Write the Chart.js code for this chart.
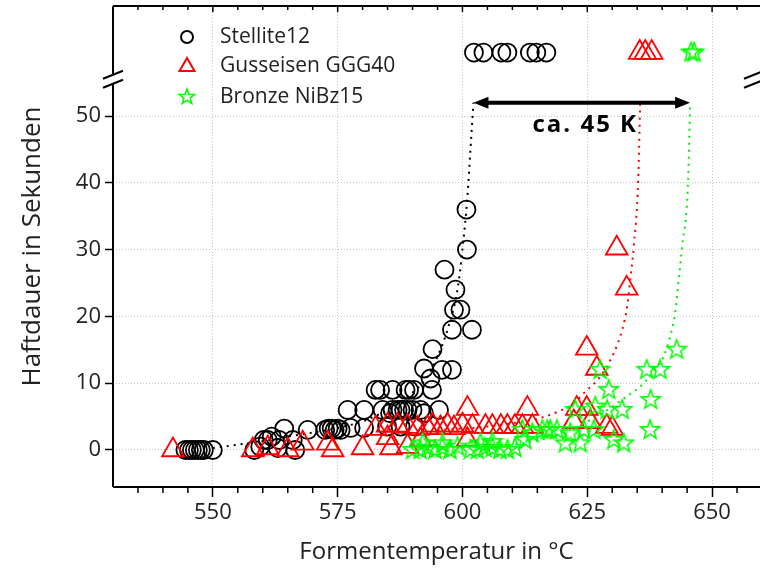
<!DOCTYPE html>
<html>
<head>
<meta charset="utf-8">
<script src="https://cdn.jsdelivr.net/npm/chart.js@4/dist/chart.umd.min.js"></script>
<style>
    body { margin: 0; background: #fff; }
    #chart_container { width: 760px; height: 573px; }
</style>
</head>
<body>
<div id="chart_container"><canvas id="haftdauer_chart" width="760" height="573"></canvas></div>
<script>
const FONT = "'Open Sans', 'DejaVu Sans', sans-serif";

// Stellite12
const stelliteX = [544.5, 545.2, 545.8, 546.4, 547.0, 547.6, 548.2, 550.0,
    558.3, 559.5, 560.2, 561.0, 561.8, 563.0, 563.3, 564.3, 566.0, 566.5, 569.0,
    572.5, 573.2, 573.8, 574.4, 575.0, 575.6, 577.6, 580.3,
    577.0, 580.3, 584.0, 586.0, 587.0, 587.6, 588.3, 589.0, 590.0, 591.6, 595.3,
    582.6, 583.5, 586.0, 588.6, 589.3, 590.3, 593.9,
    584.9, 587.6, 590.5, 585.5, 592.3,
    593.6, 592.3, 595.9, 597.9, 594.0, 597.9, 601.9, 598.3, 599.6, 598.6, 596.4, 600.9, 600.8];
const stelliteY = [0, 0, 0, 0, 0, 0, 0, 0,
    0, 0.5, 1.5, 1.5, 2, 0.3, 1.5, 3.2, 1.5, 0, 3,
    3, 3.2, 3.2, 3, 3.2, 3, 3.3, 3.3,
    6, 6, 6, 6, 6, 6, 6, 6, 6, 6, 6,
    9, 9, 9, 9, 9, 9, 9,
    3.5, 3.5, 3.5, 5.5, 5.5,
    10.7, 12.2, 12, 12, 15.1, 18, 18, 21, 21, 24, 27, 30, 36];
// no adhesion -> row above the axis break
const stelliteTopX = [602.3, 604.2, 607.8, 609.0, 613.5, 614.8, 616.8];

// Gusseisen GGG40
const gussX = [542, 558, 561, 565, 568, 573, 574, 580, 582.6, 585, 585.7, 585, 587, 589, 589,
    591, 591.6, 593, 594, 595.6, 597, 598.3, 600, 601, 601, 602, 604.6, 606, 607.7, 609,
    610.5, 612, 613, 614, 622.9, 624.9, 622.3, 625.6, 628.9, 630, 624.9, 626.9, 630.9, 632.9];
const gussY = [0, 0, 0.3, 0, 1, 1, 0, 0.3, 3.2, 1.8, 0.3, 3.7, 3.7, 0.5, 3.5,
    3.2, 1.5, 3.3, 3.7, 3.3, 3.7, 3.3, 3.7, 6.2, 1.5, 3.5, 3.5, 3.5, 3.5, 3.5,
    3.5, 3.5, 6.2, 3.5, 6.2, 6.2, 4.2, 4.2, 3.5, 3.2, 15.2, 12.2, 30.2, 24.2];
const gussTopX = [635.5, 636.6, 637.9];

// Bronze NiBz15
const bronzeX = [590, 591.5, 593, 594.5, 596, 597.5, 599, 592, 596,
    601.6, 603, 604.5, 606, 607.5, 609, 610.5, 603.6, 606,
    612, 614, 616, 617.6, 612.5, 617, 618.9, 620.6, 621.6, 622.6, 623.6, 624.3, 626.3,
    626.6, 627.6, 629, 629.3, 630.3, 632, 632.3, 636.9, 637.6, 637.7, 639.6, 642.9];
const bronzeY = [0, 0, 0.3, 0, 0.3, 0, 0.5, 1, 1,
    0, 0, 0.3, 0.3, 0, 0, 0.3, 1, 1.2,
    3, 2.5, 3, 3, 1.5, 3, 3, 1, 2.5, 6, 1, 3, 3,
    6.5, 12, 6, 9, 1.5, 6, 1, 12, 3, 7.5, 12, 15];
const bronzeTopX = [645.8, 646.4];

// dotted fit curves
const stelliteFitX = [550, 555, 560, 565, 570, 575, 580, 585, 589, 593, 595, 597, 599, 600, 601, 601.6, 602.2];
const stelliteFitY = [0.3, 0.8, 1.3, 2, 2.6, 3.3, 4.3, 6, 8, 11, 14, 18, 24, 30, 38, 45, 52];
const gussFitX = [595, 600, 605, 610, 615.6, 619, 622.3, 624.3, 627.6, 630.3, 632, 633, 633.6, 634.3, 635.2, 635.6];
const gussFitY = [3, 3.2, 3.5, 4, 4.8, 5.7, 7, 8.5, 11, 14.5, 18, 21.5, 25.4, 30.4, 40.3, 52];
const bronzeFitX = [605, 612, 618, 623, 628, 632.9, 635.6, 638, 640.3, 641.6, 642.6, 643.3, 644, 645.2, 645.6];
const bronzeFitY = [0.3, 1, 2, 3.5, 5.5, 8, 9.5, 11.5, 14, 17, 20.5, 25.4, 30.4, 40.3, 52];

const TOP_ROW = 59.5;      // value used for the "no adhesion" row
const BREAK_AT = 55.5;     // where the y axis is broken
const xTicks = [550, 575, 600, 625, 650];
const yTicks = [0, 10, 20, 30, 40, 50];
const seriesNames = ['Stellite12', 'Gusseisen GGG40', 'Bronze NiBz15'];
const arrowX = [602.2, 645.6];
const arrowY = 52;
const arrowLabel = ['ca. 45 K', 624.6, 48.7];

const toPoints = (xs, ys) => xs.map((x, i) => ({x: x, y: ys[i]}));
const topPoints = (xs) => xs.map(x => ({x: x, y: TOP_ROW}));

// outlined 5-point star, Chart.js has no such pointStyle
const makeStar = function(r, color, lw) {
    const size = Math.ceil(2 * r + 2 * lw + 2);
    const c = document.createElement('canvas');
    c.width = size; c.height = size;
    const g = c.getContext('2d');
    g.strokeStyle = color; g.lineWidth = lw;
    g.beginPath();
    for (let i = 0; i < 10; i++) {
        const rr = i % 2 === 0 ? r : r * 0.42;
        const a = -Math.PI / 2 + i * Math.PI / 5;
        const px = size / 2 + rr * Math.cos(a), py = size / 2 + rr * Math.sin(a);
        if (i === 0) g.moveTo(px, py); else g.lineTo(px, py);
    }
    g.closePath(); g.stroke();
    return c;
}

const starBig = makeStar(10, '#00ff00', 1.6);
const starSmall = makeStar(8, '#00ff00', 1.6);

const fitLine = function(xs, ys, color) {
    return {
        data: toPoints(xs, ys), showLine: true, pointRadius: 0, borderColor: color,
        borderWidth: 2, borderDash: [2, 5], fill: false, cubicInterpolationMode: 'monotone', order: 3
    };
}

const line = function(ctx, x1, y1, x2, y2) {
    ctx.beginPath(); ctx.moveTo(x1, y1); ctx.lineTo(x2, y2); ctx.stroke();
}

// kill the automatic label padding so the plot area stays where we want it
const noPad = function(scale) {
    scale.paddingTop = 0; scale.paddingBottom = 0;
    scale.paddingLeft = 0; scale.paddingRight = 0;
}

const decorPlugin = {
    id: 'decor',
    afterDraw(chart) {
        const ctx = chart.ctx, area = chart.chartArea;
        const xs = chart.scales.x, ys = chart.scales.y;
        ctx.save();
        ctx.strokeStyle = '#000';
        ctx.fillStyle = '#000';
        ctx.lineWidth = 2;

        // frame: top, bottom, broken left axis
        const yb = ys.getPixelForValue(BREAK_AT);
        line(ctx, area.left, area.top, area.right, area.top);
        line(ctx, area.left, area.bottom, area.right, area.bottom);
        line(ctx, area.left, area.top, area.left, yb - 4);
        line(ctx, area.left, yb + 4, area.left, area.bottom);

        // break marks left and right
        [area.left, area.right - 6].forEach(bx => {
            line(ctx, bx - 10, yb - 0.5, bx + 10, yb - 8.5);
            line(ctx, bx - 10, yb + 8.5, bx + 10, yb + 0.5);
        });

        // minor ticks bottom (outward) and ticks on top (inward)
        ctx.lineWidth = 1.5;
        for (let v = 535; v <= 655; v += 5) {
            const px = xs.getPixelForValue(v);
            const major = xTicks.includes(v);
            if (!major) line(ctx, px, area.bottom, px, area.bottom + 6);
            line(ctx, px, area.top, px, area.top + (major ? 6 : 4));
        }

        // double arrow with label
        const ax1 = xs.getPixelForValue(arrowX[0]), ax2 = xs.getPixelForValue(arrowX[1]);
        const ay = ys.getPixelForValue(arrowY);
        ctx.lineWidth = 4;
        line(ctx, ax1 + 10, ay, ax2 - 10, ay);
        ctx.beginPath();
        ctx.moveTo(ax1, ay); ctx.lineTo(ax1 + 15, ay - 6); ctx.lineTo(ax1 + 15, ay + 6); ctx.closePath();
        ctx.moveTo(ax2, ay); ctx.lineTo(ax2 - 15, ay - 6); ctx.lineTo(ax2 - 15, ay + 6); ctx.closePath();
        ctx.fill();
        ctx.font = 'bold 24px ' + FONT;
        ctx.letterSpacing = '2px';
        ctx.textAlign = 'center';
        ctx.textBaseline = 'middle';
        ctx.fillText(arrowLabel[0], xs.getPixelForValue(arrowLabel[1]), ys.getPixelForValue(arrowLabel[2]));
        ctx.letterSpacing = '0px';

        // legend
        const lx = area.left + 74, tx = area.left + 107;
        const rows = [31, 60, 91].map(d => area.top + d);
        ctx.lineWidth = 2;
        ctx.strokeStyle = '#000';
        ctx.beginPath(); ctx.arc(lx, rows[0], 6, 0, Math.PI * 2); ctx.stroke();
        ctx.strokeStyle = '#ff0000';
        ctx.beginPath();
        ctx.moveTo(lx, rows[1] - 8); ctx.lineTo(lx + 7.5, rows[1] + 5); ctx.lineTo(lx - 7.5, rows[1] + 5); ctx.closePath();
        ctx.stroke();
        ctx.drawImage(starSmall, lx - starSmall.width / 2, rows[2] - starSmall.height / 2);
        ctx.fillStyle = '#222';
        ctx.font = '21px ' + FONT;
        ctx.textAlign = 'left';
        seriesNames.forEach((name, i) => ctx.fillText(name, tx, rows[i]));
        ctx.restore();
    }
};

const ctx = document.getElementById('haftdauer_chart').getContext('2d');
const haftChart = new Chart(ctx, {
    type: 'scatter',
    data: {
        datasets: [
            {
                label: seriesNames[2],
                data: toPoints(bronzeX, bronzeY).concat(topPoints(bronzeTopX)),
                pointStyle: starBig, order: 0
            },
            {
                label: seriesNames[1],
                data: toPoints(gussX, gussY).concat(topPoints(gussTopX)),
                pointStyle: 'triangle', pointRadius: 12.5, pointBorderWidth: 1.8,
                pointBorderColor: '#ff0000', pointBackgroundColor: 'rgba(0,0,0,0)', order: 1
            },
            {
                label: seriesNames[0],
                data: toPoints(stelliteX, stelliteY).concat(topPoints(stelliteTopX)),
                pointStyle: 'circle', pointRadius: 9, pointBorderWidth: 1.8,
                pointBorderColor: '#000', pointBackgroundColor: 'rgba(0,0,0,0)', order: 2
            },
            fitLine(stelliteFitX, stelliteFitY, '#000'),
            fitLine(gussFitX, gussFitY, '#ff0000'),
            fitLine(bronzeFitX, bronzeFitY, '#00ee00')
        ]
    },
    options: {
        responsive: false,
        animation: false,
        devicePixelRatio: 1,
        layout: { autoPadding: false, padding: { top: 6, right: 0, bottom: 0, left: 0 } },
        plugins: { legend: { display: false }, tooltip: { enabled: false } },
        scales: {
            x: {
                type: 'linear', min: 530, max: 659.6,
                afterBuildTicks: function(scale) { scale.ticks = xTicks.map(v => ({value: v})); },
                afterFit: function(scale) { scale.height = 86; noPad(scale); },
                grid: { color: '#c4c4c4', lineWidth: 1, drawTicks: true, tickLength: 10, tickColor: '#000', tickWidth: 1.5 },
                border: { display: false, dash: [1, 2] },
                ticks: { font: { family: FONT, size: 22 }, color: '#222', padding: 3, maxRotation: 0, autoSkip: false },
                title: { display: true, text: 'Formentemperatur in °C', font: { family: FONT, size: 24 }, color: '#222', padding: { top: 0, bottom: 6 } }
            },
            y: {
                type: 'linear', min: -5.54, max: 66.47,
                afterBuildTicks: function(scale) { scale.ticks = yTicks.map(v => ({value: v})); },
                afterFit: function(scale) { scale.width = 113; noPad(scale); },
                grid: { color: '#c4c4c4', lineWidth: 1, drawTicks: true, tickLength: 8, tickColor: '#000', tickWidth: 1.5 },
                border: { display: false, dash: [1, 2] },
                ticks: { font: { family: FONT, size: 22 }, color: '#222', padding: 4, autoSkip: false },
                title: { display: true, text: 'Haftdauer in Sekunden', font: { family: FONT, size: 26 }, color: '#222', padding: { top: 17, bottom: 0 } }
            }
        }
    },
    plugins: [decorPlugin]
});
</script>
</body>
</html>
